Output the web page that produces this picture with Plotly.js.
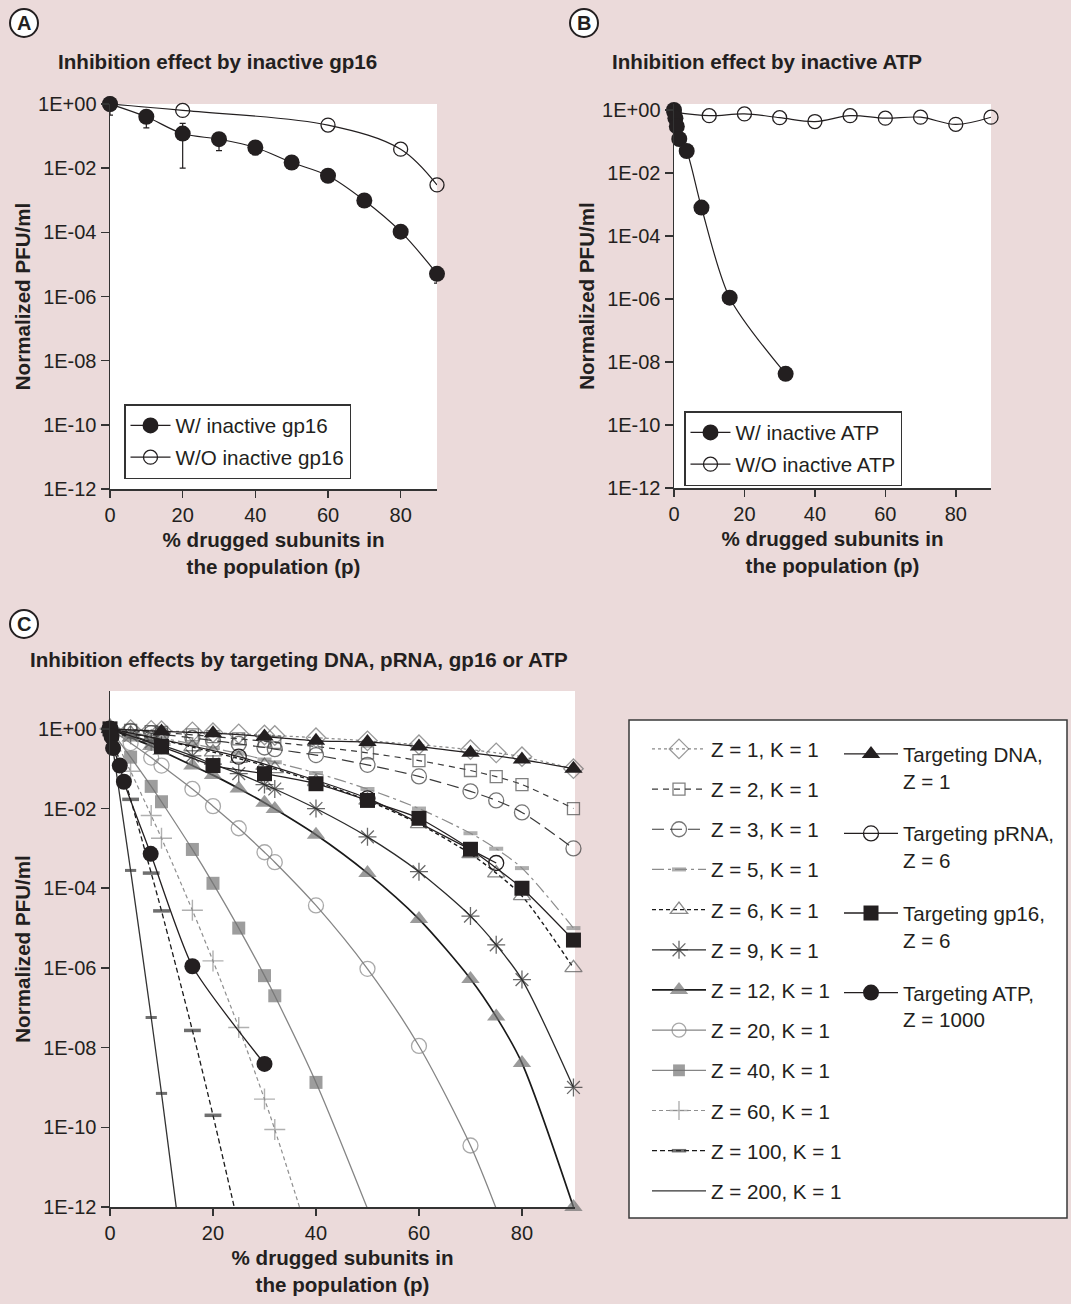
<!DOCTYPE html>
<html><head><meta charset="utf-8">
<script src="https://cdn.plot.ly/plotly-3.0.1.min.js"></script>
<style>html,body{margin:0;padding:0;background:#ebdada;}</style>
</head><body><div id="chart" style="width:1071px;height:1304px;"></div>
<script>
const FONT = 'Liberation Sans, Arial, Helvetica, sans-serif';
const INK = '#231f20';
const PINK = '#ebdada';
const W = 1071, H = 1304;
const px = v => v / W;
const py = v => 1 - v / H;

// ---------- Panel A: inactive gp16 ----------
const pA_with = [0, 10, 20, 30, 40, 50, 60, 70, 80, 90];
const withGp16 = [1, 0.4, 0.12, 0.08, 0.044, 0.015, 0.0058, 0.00098, 0.000105, 0.0000051];
const withGp16ErrPlus = [0, 0, 0.13, 0, 0, 0, 0, 0, 0, 0];
const withGp16ErrMinus = [0.55, 0.22, 0.11, 0.045, 0.018, 0, 0, 0, 0, 0.0000025];
const pA_without = [0, 20, 60, 80, 90];
const withoutGp16 = [1, 0.63, 0.22, 0.039, 0.003];

// ---------- Panel B: inactive ATP ----------
const pB_with = [0, 0.4, 0.8, 1.5, 3.6, 7.8, 15.8, 31.7];
const withATP = [1, 0.55, 0.3, 0.12, 0.05, 0.0008, 0.0000011, 0.0000000042];
const pB_without = [0, 10, 20, 30, 40, 50, 60, 70, 80, 90];
const withoutATP = [0.85, 0.66, 0.75, 0.57, 0.43, 0.66, 0.55, 0.59, 0.35, 0.59];

// ---------- Panel C: model curves ----------
const pGrid = [0, 4, 8, 10, 16, 20, 25, 30, 32, 40, 50, 60, 70, 75, 80, 90];
const z1 = [1, 0.96, 0.92, 0.9, 0.84, 0.8, 0.75, 0.7, 0.68, 0.6, 0.5, 0.4, 0.3, 0.25, 0.2, 0.1];
const z2 = [1, 0.92, 0.85, 0.81, 0.71, 0.64, 0.56, 0.49, 0.46, 0.36, 0.25, 0.16, 0.09, 0.063, 0.04, 0.01];
const z3 = [1, 0.885, 0.78, 0.73, 0.59, 0.51, 0.42, 0.34, 0.31, 0.22, 0.125, 0.064, 0.027, 0.016, 0.008, 0.001];
const z5 = [1, 0.815, 0.66, 0.59, 0.42, 0.33, 0.24, 0.17, 0.145, 0.078, 0.031, 0.01, 0.0024, 0.00098, 0.00032, 0.00001];
const z6 = [1, 0.78, 0.61, 0.53, 0.35, 0.26, 0.18, 0.12, 0.099, 0.047, 0.016, 0.0041, 0.00073, 0.00024, 0.000064, 0.000001];
const z9 = [1, 0.69, 0.47, 0.39, 0.21, 0.13, 0.075, 0.04, 0.031, 0.01, 0.00195, 0.00026, 0.00002, 0.0000038, 0.00000051, 1e-9];
const z12 = [1, 0.61, 0.37, 0.28, 0.12, 0.069, 0.032, 0.014, 0.0098, 0.0022, 0.00024, 0.0000168, 5.3e-7, 6e-8, 4.1e-9, 1e-12];
const pZ20 = [0, 4, 8, 10, 16, 20, 25, 30, 32, 40, 50, 60, 70, 75];
const z20 = [1, 0.44, 0.19, 0.12, 0.031, 0.0115, 0.0032, 0.0008, 0.00045, 0.000037, 9.5e-7, 1.1e-8, 3.5e-11, 9.1e-13];
const pZ40 = [0, 4, 8, 10, 16, 20, 25, 30, 32, 40, 50];
const z40 = [1, 0.195, 0.036, 0.0148, 0.00094, 0.000133, 0.00001, 6.4e-7, 2e-7, 1.34e-9, 9.1e-13];
const pZ60 = [0, 4, 8, 10, 16, 20, 25, 30, 32, 40];
const z60 = [1, 0.086, 0.0067, 0.0018, 0.000028, 0.0000015, 3.2e-8, 5.1e-10, 8.8e-11, 4.9e-14];
const pZ100 = [0, 4, 8, 10, 16, 20, 25];
const z100 = [1, 0.017, 0.00024, 0.000027, 2.7e-8, 2e-10, 3.2e-13];
const pZ200 = [0, 4, 8, 10, 16];
const z200 = [1, 0.00028, 5.7e-8, 7.1e-10, 7.2e-16];

// ---------- Panel C: targeting data ----------
const pDNA = [0, 10, 20, 30, 40, 50, 60, 70, 80, 90];
const targetDNA = [1, 0.86, 0.78, 0.64, 0.5, 0.47, 0.36, 0.25, 0.17, 0.1];
const pPRNA = [0, 25, 50, 75];
const targetPRNA = [1, 0.2, 0.018, 0.00043];
const pGP16 = [0, 10, 20, 30, 40, 50, 60, 70, 80, 90];
const targetGP16 = [1, 0.36, 0.12, 0.075, 0.042, 0.016, 0.0057, 0.00095, 0.0001, 0.000005];
const pATP = [0, 0.3, 0.6, 1.9, 2.7, 7.9, 16, 30];
const targetATP = [1, 0.64, 0.33, 0.12, 0.047, 0.00073, 0.0000011, 0.0000000039];

const yTickVals = [1, 1e-2, 1e-4, 1e-6, 1e-8, 1e-10, 1e-12];
const yTickText = ['1E+00', '1E-02', '1E-04', '1E-06', '1E-08', '1E-10', '1E-12'];
const xTickVals = [0, 20, 40, 60, 80];

const sizes = (ys, s) => ys.map(v => (v >= 9.5e-13 ? s : 0));

const traces = [];
// Panel A
traces.push({
  x: pA_without, y: withoutGp16, xaxis: 'x', yaxis: 'y', type: 'scatter', mode: 'lines+markers',
  name: 'W/O inactive gp16', legend: 'legend', legendgroup: 'a2', legendrank: 2,
  line: {shape: 'spline', smoothing: 1, color: INK, width: 1.2},
  marker: {symbol: 'circle-open', size: 14, color: INK, line: {width: 1.3, color: INK}},
  cliponaxis: false
});
traces.push({
  x: pA_with, y: withGp16, xaxis: 'x', yaxis: 'y', type: 'scatter', mode: 'lines+markers',
  name: 'W/ inactive gp16', legend: 'legend', legendgroup: 'a1', legendrank: 1,
  line: {shape: 'spline', smoothing: 1, color: INK, width: 1.2},
  marker: {symbol: 'circle', size: 16, color: INK},
  error_y: {type: 'data', symmetric: false, array: withGp16ErrPlus, arrayminus: withGp16ErrMinus,
            color: INK, thickness: 1.2, width: 3},
  cliponaxis: false
});
// Panel B
traces.push({
  x: pB_without, y: withoutATP, xaxis: 'x2', yaxis: 'y2', type: 'scatter', mode: 'lines+markers',
  name: 'W/O inactive ATP', legend: 'legend2', legendgroup: 'b2', legendrank: 2,
  line: {shape: 'spline', smoothing: 1, color: INK, width: 1.2},
  marker: {symbol: 'circle-open', size: 14, color: INK, line: {width: 1.3, color: INK}},
  cliponaxis: false
});
traces.push({
  x: pB_with, y: withATP, xaxis: 'x2', yaxis: 'y2', type: 'scatter', mode: 'lines+markers',
  name: 'W/ inactive ATP', legend: 'legend2', legendgroup: 'b1', legendrank: 1,
  line: {shape: 'spline', smoothing: 0.8, color: INK, width: 1.2},
  marker: {symbol: 'circle', size: 16, color: INK},
  cliponaxis: false
});

// Panel C model series
const modelSeries = [
  {name: 'Z = 1, K = 1', x: pGrid, y: z1, sym: 'diamond-open', ms: 15, mc: '#6d6d6d', mlw: 1.3, lc: '#8a8a8a', lw: 1.2, dash: 'dot'},
  {name: 'Z = 2, K = 1', x: pGrid, y: z2, sym: 'square-open', ms: 12, mc: '#4a4a4a', mlw: 1.3, lc: '#3a3a3a', lw: 1.2, dash: '6px,5px'},
  {name: 'Z = 3, K = 1', x: pGrid, y: z3, sym: 'circle-open', ms: 15, mc: '#3a3a3a', mlw: 1.3, lc: '#3a3a3a', lw: 1.2, dash: '12px,6px'},
  {name: 'Z = 5, K = 1', x: pGrid, y: z5, sym: 'line-ew', ms: 10, mc: '#8c8c8c', mlw: 4, lc: '#8c8c8c', lw: 1.2, dash: '12px,4px,3px,4px'},
  {name: 'Z = 6, K = 1', x: pGrid, y: z6, sym: 'triangle-up-open', ms: 15, mc: '#555555', mlw: 1.3, lc: '#1a1a1a', lw: 1.4, dash: '4px,3px'},
  {name: 'Z = 9, K = 1', x: pGrid, y: z9, sym: 'asterisk-open', ms: 15, mc: '#2a2a2a', mlw: 1.3, lc: '#2a2a2a', lw: 1.3, dash: 'solid'},
  {name: 'Z = 12, K = 1', x: pGrid, y: z12, sym: 'triangle-up', ms: 16, mc: '#707070', mlw: 0, lc: '#1a1a1a', lw: 1.7, dash: 'solid'},
  {name: 'Z = 20, K = 1', x: pZ20, y: z20, sym: 'circle-open', ms: 15, mc: '#858585', mlw: 1.3, lc: '#858585', lw: 1.3, dash: 'solid'},
  {name: 'Z = 40, K = 1', x: pZ40, y: z40, sym: 'square', ms: 13, mc: '#747474', mlw: 0, lc: '#858585', lw: 1.3, dash: 'solid'},
  {name: 'Z = 60, K = 1', x: pZ60, y: z60, sym: 'cross-thin-open', ms: 15, mc: '#8f8f8f', mlw: 1.4, lc: '#8f8f8f', lw: 1.2, dash: '4px,3px'},
  {name: 'Z = 100, K = 1', x: pZ100, y: z100, sym: 'line-ew', ms: 12, mc: '#333333', mlw: 3.5, lc: '#1a1a1a', lw: 1.3, dash: '5px,3px'}
];
modelSeries.forEach((s, i) => {
  traces.push({
    x: s.x, y: s.y, xaxis: 'x3', yaxis: 'y3', type: 'scatter', mode: 'lines+markers',
    name: s.name, legend: 'legend3', legendgroup: 'c' + i,
    line: {shape: 'spline', smoothing: 0.8, color: s.lc, width: s.lw, dash: s.dash},
    marker: {symbol: s.sym, size: sizes(s.y, s.ms), color: s.mc, line: {width: s.mlw, color: s.mc}},
    cliponaxis: false
  });
});
traces.push({
  x: pZ200, y: z200, xaxis: 'x3', yaxis: 'y3', type: 'scatter', mode: 'lines',
  name: 'Z = 200, K = 1', legend: 'legend3', legendgroup: 'c11',
  line: {shape: 'spline', smoothing: 0.8, color: '#333333', width: 1.3}
});
traces.push({
  x: pZ200, y: z200, xaxis: 'x3', yaxis: 'y3', type: 'scatter', mode: 'markers',
  name: 'Z = 200, K = 1', showlegend: false,
  marker: {symbol: 'line-ew', size: sizes(z200, 8), color: '#333333', line: {width: 3, color: '#333333'}},
  cliponaxis: false
});
// Targeting series
const targetSeries = [
  {name: 'Targeting DNA,<br>Z = 1', x: pDNA, y: targetDNA, sym: 'triangle-up', ms: 16, fill: true},
  {name: 'Targeting pRNA,<br>Z = 6', x: pPRNA, y: targetPRNA, sym: 'circle-open', ms: 15, fill: false},
  {name: 'Targeting gp16,<br>Z = 6', x: pGP16, y: targetGP16, sym: 'square', ms: 15, fill: true},
  {name: 'Targeting ATP,<br>Z = 1000', x: pATP, y: targetATP, sym: 'circle', ms: 16, fill: true}
];
targetSeries.forEach((s, i) => {
  traces.push({
    x: s.x, y: s.y, xaxis: 'x3', yaxis: 'y3', type: 'scatter', mode: 'lines+markers',
    name: s.name, legend: 'legend4', legendgroup: 't' + i,
    line: {shape: 'spline', smoothing: 0.6, color: INK, width: 1.3},
    marker: {symbol: s.sym, size: s.ms, color: INK, line: {width: s.fill ? 0 : 1.3, color: INK}},
    cliponaxis: false
  });
});

const tickFont = {family: FONT, size: 20, color: INK};
const titleFont = {family: FONT, size: 20.6, color: INK};
const xTitle = '<b>% drugged subunits in</b><br><b>the population (p)</b>';
const yTitle = '<b>Normalized PFU/ml</b>';

function xAxis(domain, anchor, range) {
  return {domain, anchor, range, tickvals: xTickVals, ticks: 'outside', ticklen: 7, tickwidth: 1.5,
    tickcolor: '#333', showline: true, linecolor: '#333', linewidth: 1.5, showgrid: false, zeroline: false,
    tickfont: tickFont, title: {text: xTitle, font: titleFont, standoff: 8}, automargin: false, fixedrange: true};
}
function yAxis(domain, anchor, range) {
  return {domain, anchor, type: 'log', range, tickvals: yTickVals, ticktext: yTickText, ticks: 'outside',
    ticklen: 8, tickwidth: 1.5, tickcolor: '#333', showline: true, linecolor: '#333', linewidth: 1.5,
    showgrid: false, zeroline: false, tickfont: tickFont,
    title: {text: yTitle, font: titleFont, standoff: 2}, automargin: false, fixedrange: true};
}

const legendBase = {
  font: {family: FONT, size: 20.6, color: INK}, bgcolor: 'white', xanchor: 'left', yanchor: 'top',
  traceorder: 'grouped', itemclick: false, itemdoubleclick: false
};

const shapes = [
  {type: 'rect', xref: 'paper', yref: 'paper', x0: px(629), x1: px(1067), y0: py(1218), y1: py(720),
   line: {color: '#3a3a3a', width: 1.5}, fillcolor: 'white', layer: 'below'}
];
const letters = [['A', 24, 23], ['B', 584, 23], ['C', 24, 624]];
letters.forEach(([t, cx, cy]) => {
  shapes.push({type: 'circle', xref: 'paper', yref: 'paper', x0: px(cx - 14), x1: px(cx + 14),
    y0: py(cy + 14), y1: py(cy - 14), line: {color: INK, width: 2}, fillcolor: 'white', layer: 'below'});
});

const annotations = [
  {text: '<b>Inhibition effect by inactive gp16</b>', x: px(56), y: py(61)},
  {text: '<b>Inhibition effect by inactive ATP</b>', x: px(610), y: py(61)},
  {text: '<b>Inhibition effects by targeting DNA, pRNA, gp16 or ATP</b>', x: px(28), y: py(659)}
].map(a => Object.assign({xref: 'paper', yref: 'paper', xanchor: 'left', yanchor: 'middle', showarrow: false,
  font: {family: FONT, size: 20.6, color: INK}}, a));
letters.forEach(([t, cx, cy]) => {
  annotations.push({text: '<b>' + t + '</b>', x: px(cx), y: py(cy), xref: 'paper', yref: 'paper',
    xanchor: 'center', yanchor: 'middle', showarrow: false, font: {family: FONT, size: 20, color: INK}});
});

const layout = {
  width: W, height: H, margin: {l: 0, r: 0, t: 0, b: 0, pad: 0},
  paper_bgcolor: PINK, plot_bgcolor: 'white', showlegend: true,
  font: {family: FONT, color: INK},
  xaxis: xAxis([px(110), px(437)], 'y', [0, 90]),
  yaxis: yAxis([py(489), py(104)], 'x', [-12, 0]),
  xaxis2: xAxis([px(674), px(991)], 'y2', [0, 90]),
  yaxis2: yAxis([py(488), py(104)], 'x2', [-12, 0.19]),
  xaxis3: xAxis([px(110), px(575)], 'y3', [0, 90.3]),
  yaxis3: yAxis([py(1207), py(691)], 'x3', [-12, 0.95]),
  legend: Object.assign({}, legendBase, {x: px(124), y: py(404), bordercolor: '#333', borderwidth: 1.5,
    itemwidth: 40, tracegroupgap: 2}),
  legend2: Object.assign({}, legendBase, {x: px(684), y: py(411), bordercolor: '#333', borderwidth: 1.5,
    itemwidth: 40, tracegroupgap: 2}),
  legend3: Object.assign({}, legendBase, {x: px(647), y: py(729), borderwidth: 0, bgcolor: 'rgba(0,0,0,0)',
    itemwidth: 54, tracegroupgap: 10.4}),
  legend4: Object.assign({}, legendBase, {x: px(839), y: py(734), borderwidth: 0, bgcolor: 'rgba(0,0,0,0)',
    itemwidth: 54, tracegroupgap: 23, valign: 'top'}),
  shapes, annotations
};

Plotly.newPlot('chart', traces, layout, {displayModeBar: false, staticPlot: true});
</script></body></html>
